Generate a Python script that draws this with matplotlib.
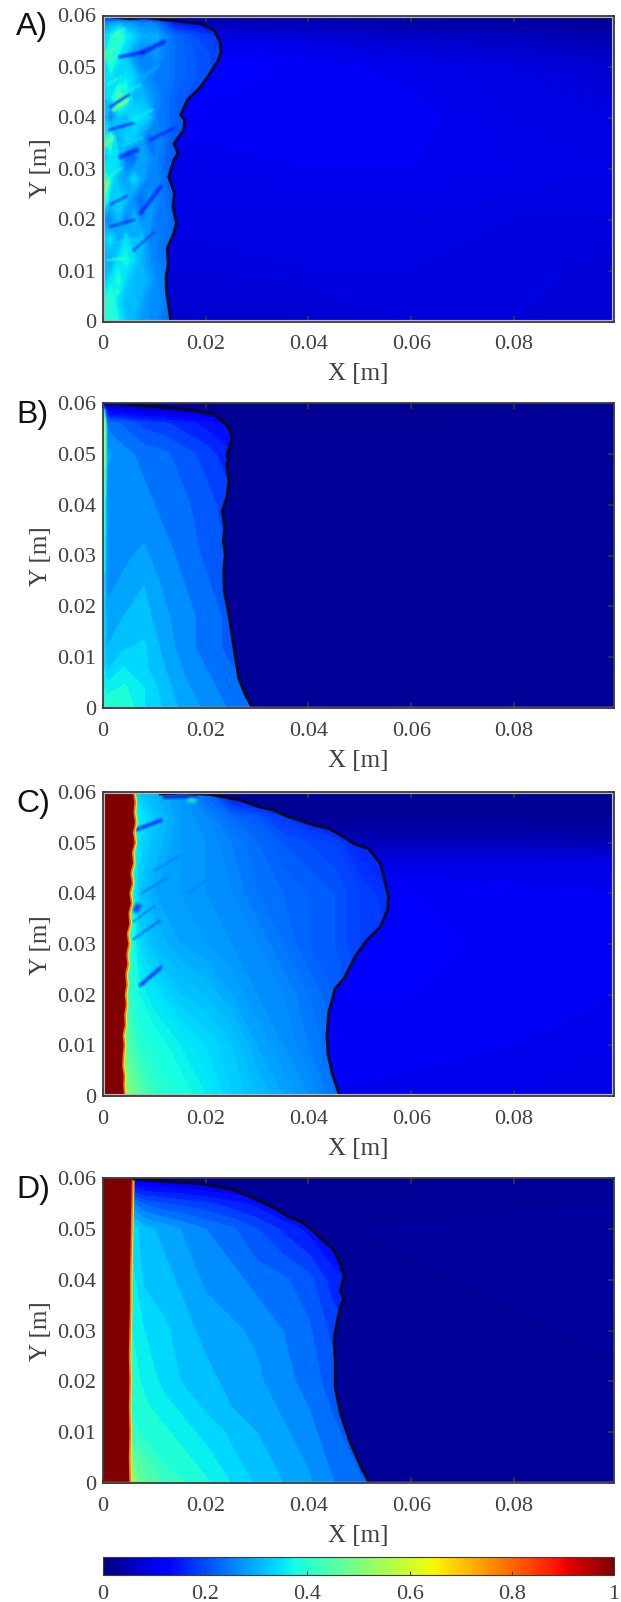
"""四联云图：A-D 面板（jet 色标、前沿黑线、左侧红色带）"""
import numpy as np
import matplotlib
matplotlib.use('Agg')
import matplotlib.pyplot as plt
from matplotlib.patches import Polygon, Rectangle
from matplotlib.colors import Normalize
from matplotlib.cm import ScalarMappable

plt.rcParams['font.family'] = ['Liberation Serif', 'DejaVu Serif']
W, H = 621, 1602
TEXT = '#404040'
FRAME = '#3c3c3c'
CMAP = plt.get_cmap('jet')

XTICKS = [0, 0.02, 0.04, 0.06, 0.08]
XTICK_LABELS = ['0', '0.02', '0.04', '0.06', '0.08']
YTICKS = [0, 0.01, 0.02, 0.03, 0.04, 0.05, 0.06]
YTICK_LABELS = ['0', '0.01', '0.02', '0.03', '0.04', '0.05', '0.06']
CBAR_TICKS = [0, 0.2, 0.4, 0.6, 0.8, 1]
CBAR_LABELS = ['0', '0.2', '0.4', '0.6', '0.8', '1']

# 前沿线
FRONT_A_X = [.0132, .0128, .0123, .0123, .0127, .0125, .0138, .0143, .0136, .0139, .0128, .0138, .0146,
             .0138, .0157, .0159, .0151, .0164, .0190, .0206, .0225, .0230, .0228, .0216, .0190, .0118,
             .0080, .0050, .0020]
FRONT_A_Y = [0, .0029, .0062, .0088, .0114, .0144, .0173, .0193, .0225, .0251, .0284, .0317, .0330,
             .0349, .0375, .0395, .0405, .0434, .0460, .0483, .0513, .0530, .0548, .0571, .0584, .0592,
             .0596, .0594, .0597]
FRONT_B_X = [.0291, .0277, .0264, .0258, .0251, .0245, .0236, .0235, .0238, .0234, .0237, .0232, .0236, .0241,
             .0245, .0241, .0244, .0241, .0251, .0248, .0241, .0216, .0164, .0060, .0008]
FRONT_B_Y = [0, .0026, .0059, .0098, .0144, .0184, .0230, .0269, .0302, .0328, .0354, .0387, .0400, .0413,
             .0446, .0480, .0490, .0498, .0528, .0545, .0557, .0578, .0587, .0597, .06]
FRONT_C_X = [.0461, .0446, .0438, .0436, .0439, .0452, .0469, .0491, .0514, .0540, .0554, .0556, .0547,
             .0540, .0517, .0488, .0464, .0439, .0412, .0384, .0358, .0332, .0300, .0267, .0209, .0160, .0112]
FRONT_C_Y = [0, .0045, .0084, .0117, .0163, .0212, .0232, .0275, .0308, .0334, .0367, .0393, .0432,
             .0459, .0488, .0498, .0514, .0528, .0534, .0544, .0552, .0564, .0572, .0584, .0595, .0598, .0596]
FRONT_D_X = [.0519, .0504, .0482, .0462, .0452, .0452, .0450, .0452, .0462, .0469, .0462, .0469, .0463,
             .0449, .0423, .0405, .0384, .0360, .0339, .0300, .0254, .0190, .0125, .0060]
FRONT_D_Y = [0, .0028, .0078, .0137, .0189, .0242, .0278, .0298, .0347, .0362, .0378, .0406, .0430,
             .0459, .0482, .0500, .0515, .0524, .0538, .0557, .0577, .0589, .0593, .0598]

# 左侧红带边界
STRIP_C_Y = [0, .002, .004, .006, .008, .01, .012, .014, .016, .018, .02, .022, .024, .026, .028, .03,
             .032, .034, .036, .038, .04, .042, .044, .046, .048, .05, .052, .054, .056, .058, .06]
STRIP_C_X = [.0043, .0041, .0042, .0039, .0040, .0042, .0040, .0044, .0043, .0046, .0044, .0047, .0045, .0049, .0047,
             .0051, .0048, .0053, .0051, .0056, .0053, .0058, .0055, .0060, .0058, .0063, .0060, .0064, .0061, .0063, .0060]
STRIP_D_Y = [0, .005, .01, .015, .02, .025, .03, .035, .04, .045, .05, .055, .06]
STRIP_D_X = [.0053, .0052, .0053, .0052, .0053, .0052, .0053, .0054, .0054, .0055, .0056, .0057, .0058]

# 外场（前沿右侧）
OUT_A_X = [0, .02, .04, .06, .08, .1]
OUT_A_Y = [0, .01, .02, .03, .04, .05, .055, .06]
OUT_A_Z = [[.070, .070, .070, .080, .080, .080],
           [.080, .080, .085, .085, .085, .075],
           [.090, .090, .090, .090, .085, .085],
           [.095, .095, .100, .100, .095, .090],
           [.105, .105, .110, .105, .090, .085],
           [.115, .120, .105, .095, .085, .070],
           [.110, .100, .085, .070, .060, .045],
           [.030, .030, .030, .020, .020, .010]]
OUT_B_X = [0, .05, .1]
OUT_B_Y = [0, .05, .06]
OUT_B_Z = [[.020, .020, .020],
           [.025, .025, .025],
           [.015, .015, .020]]
OUT_C_X = [0, .02, .04, .06, .08, .1]
OUT_C_Y = [0, .01, .02, .03, .04, .046, .05, .055, .06]
OUT_C_Z = [[.100, .100, .100, .095, .095, .095],
           [.110, .110, .105, .105, .100, .095],
           [.115, .115, .110, .110, .105, .100],
           [.115, .115, .120, .115, .105, .100],
           [.115, .115, .115, .110, .105, .100],
           [.090, .090, .090, .090, .090, .090],
           [.050, .050, .050, .050, .050, .045],
           [.020, .020, .020, .020, .020, .020],
           [.015, .015, .015, .015, .015, .015]]
OUT_D_X = [0, .05, .1]
OUT_D_Y = [0, .05, .06]
OUT_D_Z = [[.022, .022, .022],
           [.025, .025, .028],
           [.018, .018, .022]]

# 内场（前沿左侧）
IN_A_X = [0, .0015, .003, .0045, .006, .0075, .009, .0105, .012, .014, .018, .024]
IN_A_Y = [0, .004, .008, .012, .016, .02, .024, .028, .032, .036, .04, .044, .048, .052, .056, .0585, .06]
IN_A_Z = [[.38, .39, .37, .32, .30, .28, .27, .26, .24, .23, .20, .17],
          [.38, .40, .34, .30, .32, .29, .26, .27, .25, .23, .20, .17],
          [.32, .35, .38, .33, .30, .31, .29, .26, .25, .23, .20, .17],
          [.30, .28, .35, .37, .34, .30, .27, .25, .24, .23, .20, .17],
          [.32, .35, .28, .35, .29, .32, .26, .25, .24, .22, .20, .17],
          [.27, .26, .31, .24, .31, .26, .28, .24, .25, .22, .20, .17],
          [.44, .32, .34, .31, .26, .22, .28, .26, .24, .22, .20, .17],
          [.42, .36, .30, .28, .34, .29, .25, .26, .23, .21, .20, .17],
          [.30, .35, .34, .24, .22, .29, .27, .25, .23, .21, .20, .17],
          [.36, .40, .29, .34, .32, .28, .22, .26, .24, .21, .20, .17],
          [.32, .25, .32, .30, .35, .34, .32, .25, .24, .22, .20, .17],
          [.32, .35, .44, .40, .30, .31, .28, .26, .24, .22, .20, .18],
          [.34, .35, .32, .35, .33, .28, .26, .24, .25, .23, .21, .19],
          [.35, .42, .36, .32, .26, .24, .26, .27, .25, .23, .21, .19],
          [.32, .36, .42, .36, .33, .30, .29, .30, .26, .23, .20, .17],
          [.26, .28, .30, .28, .27, .26, .26, .24, .20, .15, .13, .10],
          [.12, .12, .12, .12, .10, .10, .10, .08, .06, .06, .06, .06]]
IN_B_X = [0, .0008, .004, .008, .012, .016, .02, .024, .03]
IN_B_Y = [0, .004, .008, .012, .018, .024, .03, .04, .05, .056, .0585, .06]
IN_B_Z = [[.42, .40, .40, .35, .32, .29, .27, .25, .23],
          [.38, .36, .38, .35, .31, .28, .26, .24, .22],
          [.36, .32, .35, .33, .30, .27, .25, .23, .21],
          [.34, .30, .32, .33, .29, .26, .24, .22, .20],
          [.36, .28, .30, .31, .28, .26, .24, .22, .20],
          [.36, .27, .28, .30, .27, .25, .23, .21, .19],
          [.42, .26, .27, .28, .26, .24, .22, .20, .18],
          [.47, .26, .26, .26, .24, .23, .21, .19, .17],
          [.62, .28, .26, .24, .23, .21, .19, .16, .14],
          [.64, .24, .22, .19, .18, .16, .14, .12, .09],
          [.40, .10, .10, .08, .07, .06, .06, .05, .05],
          [.10, .03, .03, .03, .03, .03, .03, .03, .03]]
IN_C_X = [.004, .007, .01, .015, .02, .025, .03, .035, .04, .045, .05, .056]
IN_C_Y = [0, .01, .02, .03, .04, .05, .055, .06]
IN_C_Z = [[.52, .46, .41, .38, .36, .33, .31, .29, .27, .24, .22, .20],
          [.47, .40, .38, .36, .34, .32, .29, .27, .25, .23, .21, .20],
          [.42, .37, .35, .32, .31, .29, .27, .26, .24, .22, .20, .19],
          [.44, .34, .31, .29, .28, .27, .26, .24, .22, .21, .19, .18],
          [.44, .32, .29, .28, .27, .26, .24, .23, .22, .21, .19, .17],
          [.47, .34, .31, .28, .27, .25, .23, .21, .20, .19, .16, .14],
          [.47, .36, .32, .28, .26, .23, .21, .18, .16, .14, .11, .10],
          [.42, .32, .30, .28, .22, .13, .11, .10, .10, .10, .10, .10]]
IN_D_X = [.005, .008, .012, .016, .02, .025, .03, .035, .04, .045, .052]
IN_D_Y = [0, .005, .01, .015, .02, .03, .04, .05, .055, .058, .06]
IN_D_Z = [[.54, .46, .42, .40, .38, .35, .32, .30, .28, .25, .22],
          [.48, .43, .39, .38, .36, .33, .31, .29, .27, .24, .21],
          [.42, .39, .38, .36, .34, .32, .30, .28, .26, .23, .20],
          [.40, .38, .36, .34, .32, .30, .29, .27, .25, .22, .19],
          [.39, .37, .34, .32, .31, .29, .28, .26, .24, .21, .18],
          [.38, .35, .33, .31, .29, .28, .27, .25, .23, .19, .16],
          [.37, .32, .31, .29, .27, .26, .24, .23, .21, .16, .14],
          [.35, .31, .29, .27, .25, .23, .20, .17, .14, .11, .10],
          [.27, .22, .20, .19, .18, .16, .14, .11, .10, .09, .09],
          [.16, .13, .13, .12, .11, .10, .09, .08, .08, .08, .08],
          [.08, .08, .08, .08, .08, .08, .08, .08, .08, .08, .08]]

# 条纹：x1, x2, y1, y2, 数值, 线宽
STREAKS_A = [(.0033, .0078, .0519, .0528, .12, 1.8), (.0078, .0118, .0528, .0548, .09, 2.2),
             (.0014, .0050, .0421, .0444, .16, 1.6), (.0021, .0047, .0415, .0434, .55, 1.8),
             (.0013, .0059, .0376, .0389, .15, 1.6), (.0034, .0066, .0323, .0336, .13, 2.2),
             (.0073, .0112, .0212, .0264, .13, 2.0), (.0014, .0060, .0186, .0199, .16, 1.6),
             (.0092, .0138, .0356, .0379, .15, 1.6), (.0010, .0042, .0120, .0125, .42, 1.6),
             (.0006, .0020, .0525, .0535, .44, 2.4), (.0020, .0040, .0560, .0572, .42, 2.4),
             (.0004, .0018, .0345, .0360, .50, 2.2), (.0002, .0010, .0255, .0275, .54, 2.2),
             (.0008, .0034, .0280, .0300, .38, 2.0), (.0010, .0035, .0465, .0480, .38, 1.8),
             (.0040, .0070, .0450, .0462, .36, 1.8), (.0040, .0075, .0345, .0360, .34, 1.8),
             (.0030, .0065, .0155, .0162, .34, 1.6), (.0015, .0045, .0230, .0245, .18, 1.6),
             (.0005, .0030, .0040, .0060, .40, 2.6), (.0060, .0095, .0395, .0415, .36, 1.6),
             (.0060, .0100, .0140, .0175, .18, 1.4), (.0080, .0105, .0480, .0500, .30, 2.0)]
STREAKS_C = [(.0066, .0112, .0526, .0544, .11, 2.0), (.0073, .0112, .0219, .0253, .13, 2.0),
             (.0064, .0068, .0368, .0374, .10, 3.2), (.0060, .0110, .0310, .0345, .22, 1.4),
             (.0120, .0180, .0590, .0592, .06, 2.0), (.0170, .0175, .0585, .0585, .40, 3.0),
             (.0075, .0125, .0400, .0430, .24, 1.4), (.0060, .0100, .0345, .0375, .24, 1.2),
             (.0100, .0150, .0445, .0475, .25, 1.4), (.0165, .0200, .0400, .0425, .25, 1.4)]

# 面板：(字母, 顶部像素, 底部像素, 外场, 内场, 前沿, 红带, 条纹, 内场等级数, 内框线)
PANELS = [
    ('A)', 15.5, 321.5, (OUT_A_X, OUT_A_Y, OUT_A_Z), (IN_A_X, IN_A_Y, IN_A_Z),
     (FRONT_A_X, FRONT_A_Y), None, STREAKS_A, 101, '#b8b8b8'),
    ('B)', 403, 708, (OUT_B_X, OUT_B_Y, OUT_B_Z), (IN_B_X, IN_B_Y, IN_B_Z),
     (FRONT_B_X, FRONT_B_Y), None, [], 41, None),
    ('C)', 792, 1096, (OUT_C_X, OUT_C_Y, OUT_C_Z), (IN_C_X, IN_C_Y, IN_C_Z),
     (FRONT_C_X, FRONT_C_Y), (STRIP_C_X, STRIP_C_Y), STREAKS_C, 101, '#b8b8b8'),
    ('D)', 1178, 1483, (OUT_D_X, OUT_D_Y, OUT_D_Z), (IN_D_X, IN_D_Y, IN_D_Z),
     (FRONT_D_X, FRONT_D_Y), (STRIP_D_X, STRIP_D_Y), [], 41, None),
]
L, R = 103, 614
XMAX = 0.0995


def pixel_axes(fig, left, right, top, bottom):
    return fig.add_axes([left/W, 1-bottom/H, (right-left)/W, (bottom-top)/H])


def draw_panel(fig, name, top, bottom, out, inner, front, strip, streaks, n_levels, edge):
    ax = pixel_axes(fig, L, R, top, bottom)
    ax.set_xlim(0, XMAX); ax.set_ylim(0, 0.06)
    ax.contourf(out[0], out[1], out[2], levels=np.linspace(0, 1, 201), cmap=CMAP, vmin=0, vmax=1, zorder=1)

    fx, fy = list(front[0]), list(front[1])
    outline = Polygon(list(zip(fx, fy)) + [(0, .06), (0, 0)], closed=True, transform=ax.transData)
    cs = ax.contourf(inner[0], inner[1], inner[2], levels=np.linspace(0, 1, n_levels),
                     cmap=CMAP, vmin=0, vmax=1, zorder=2)
    cs.set_clip_path(outline)

    # 条纹叠三层，边缘柔和一点
    for x1, x2, y1, y2, v, lw in streaks:
        for k, a in ((2.2, .22), (1.3, .3), (.6, .35)):
            ax.plot([x1, x2], [y1, y2], color=CMAP(v), lw=lw*k, alpha=a, zorder=3, solid_capstyle='round')

    if strip is not None:
        sx, sy = strip
        ax.fill_betweenx(sy, 0, sx, color=CMAP(1.0), lw=0, zorder=4)
        ax.plot(sx, sy, color='#ff6a00', lw=1.3, zorder=5)
        ax.plot(np.array(sx)+.00025, sy, color='#ffe800', lw=0.8, zorder=5)

    ax.plot(fx, fy, color='#0a0a20', lw=2.0, zorder=6, solid_joinstyle='round')

    if edge:
        ax.add_patch(Rectangle((0, 0), XMAX, .06, fill=False, ec=edge, lw=3.0, zorder=7))
    else:
        ax.plot([0, XMAX], [0, 0], color='#b8b8b8', lw=2.5, zorder=7)

    for s in ax.spines.values():
        s.set_color(FRAME); s.set_linewidth(1.3); s.set_zorder(8)
    ax.set_xticks(XTICKS); ax.set_xticklabels(XTICK_LABELS)
    ax.set_yticks(YTICKS); ax.set_yticklabels(YTICK_LABELS)
    ax.tick_params(direction='in', top=True, right=True, length=4.5, width=1.1, color=FRAME,
                   labelsize=16, labelcolor=TEXT, zorder=9)
    ax.tick_params(axis='x', pad=10)
    ax.tick_params(axis='y', pad=5)
    fig.text(358/W, 1-(bottom+53)/H, 'X [m]', fontsize=18, color=TEXT, ha='center', va='center')
    fig.text(41/W, 1-(top+153)/H, 'Y [m]', fontsize=18, color=TEXT, ha='center', va='center', rotation=90)
    fig.text(16/W, 1-(top+12)/H, name, family='Liberation Sans', fontsize=23, color='#111111', ha='left', va='center')


fig = plt.figure(figsize=(W/100, H/100), dpi=100)
for name, top, bottom, out, inner, front, strip, streaks, n_levels, edge in PANELS:
    draw_panel(fig, name, top, bottom, out, inner, front, strip, streaks, n_levels, edge)

# 色标
cax = pixel_axes(fig, L, R, 1557, 1575)
cb = fig.colorbar(ScalarMappable(Normalize(0, 1), CMAP), cax=cax, orientation='horizontal', ticks=CBAR_TICKS)
cb.ax.set_xticklabels(CBAR_LABELS)
cb.ax.tick_params(direction='in', length=3, width=0.8, color=FRAME, labelsize=16, labelcolor=TEXT, pad=7)
cb.outline.set_edgecolor(FRAME); cb.outline.set_linewidth(0.8)

fig.savefig('out.png', dpi=100)
